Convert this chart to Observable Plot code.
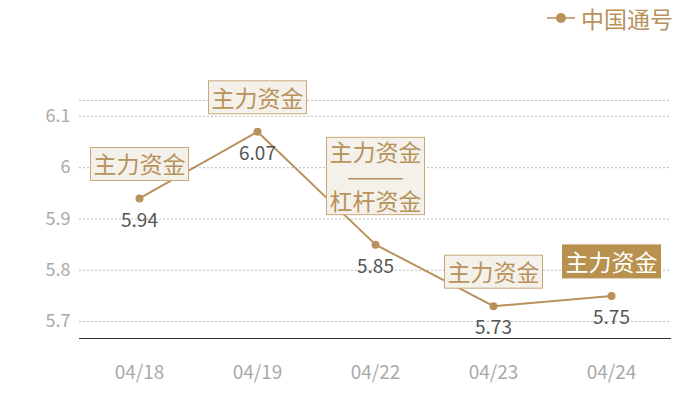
<!DOCTYPE html>
<html><head><meta charset="utf-8">
<script src="https://cdn.jsdelivr.net/npm/d3@7"></script>
<script src="https://cdn.jsdelivr.net/npm/@observablehq/plot@0.6"></script>
<style>
body{margin:0;background:#fff;font-family:"Noto Sans CJK SC","Noto Sans",sans-serif;}
#legend{height:36px;display:flex;justify-content:flex-end;align-items:center;padding-right:27px;color:#b8925a;font-size:23px;}
#legend svg{margin-right:6px}
</style></head><body>
<div id="legend"><svg width="28" height="12"><line x1="0" x2="28" y1="6" y2="6" stroke="#b8925a" stroke-width="1.5"/><circle cx="14" cy="6" r="5" fill="#b8925a"/></svg><span>中国通号</span></div>
<div id="chart"></div>
<script>
const dates = ["04/18", "04/19", "04/22", "04/23", "04/24"];
const values = [5.94, 6.07, 5.85, 5.73, 5.75];
const notes = ["主力资金", "主力资金", "主力资金\n———\n杠杆资金", "主力资金", "主力资金"];
const highlight = [false, false, false, false, true];
const yTicks = [5.7, 5.8, 5.9, 6.0, 6.1];
const yDomain = [5.667, 6.131];
const seriesName = "中国通号";

const gold = "#b8925a";
const noteFill = "#b8925b";
const data = dates.map((d, i) => ({date: d, value: values[i], note: notes[i], hi: highlight[i]}));
const font = '"Noto Sans CJK SC","Noto Sans",sans-serif';
const single = data.filter(d => !d.hi && !d.note.includes("\n"));
const multi = data.filter(d => !d.hi && d.note.includes("\n"));
const hi = data.filter(d => d.hi);

const chart = Plot.plot({
  width: 700, height: 364,
  marginTop: 64, marginBottom: 62, marginLeft: 79, marginRight: 29,
  style: {fontFamily: font, background: "white", overflow: "visible"},
  x: {type: "point", domain: dates, padding: 0.5, label: null, tickSize: 0, tickPadding: 27},
  y: {domain: yDomain, ticks: yTicks, label: null, tickSize: 0, tickPadding: 9, tickFormat: d => String(+d.toFixed(1))},
  marks: [
    Plot.ruleY([...yTicks, yDomain[1]], {stroke: "#bbb", strokeDasharray: "2,2"}),
    Plot.ruleY([yDomain[0]], {stroke: "#333", strokeWidth: 1}),
    Plot.line(data, {x: "date", y: "value", stroke: gold, strokeWidth: 2}),
    Plot.dot(data, {x: "date", y: "value", r: 4, fill: gold}),
    Plot.text(data, {x: "date", y: "value", text: d => d.value.toFixed(2), dy: 22, fill: "#555", fontSize: 19}),
    Plot.text(single, {x: "date", y: "value", text: "note", lineAnchor: "bottom", dy: -25, fontSize: 23, fill: noteFill}),
    Plot.text(multi, {x: "date", y: "value", text: "note", lineAnchor: "bottom", dy: -35, fontSize: 23, lineHeight: 1.05, fill: noteFill}),
    Plot.text(hi, {x: "date", y: "value", text: "note", lineAnchor: "bottom", dy: -25, fontSize: 23, fill: "#fffffe"})
  ]
});
document.getElementById("chart").append(chart);

const svg = d3.select(chart);
svg.selectAll("[aria-label='y-axis tick label']").attr("fill", "#aaa").style("font-size", "18px");
svg.selectAll("[aria-label='x-axis tick label']").attr("fill", "#aaa").style("font-size", "19px");

function addBox(textEl, fill, stroke) {
  const b = textEl.getBBox();
  const multiLine = textEl.querySelectorAll("tspan").length > 1;
  const trim = multiLine ? 3 : 1;
  const r = document.createElementNS("http://www.w3.org/2000/svg", "rect");
  r.setAttribute("x", b.x - 3);
  r.setAttribute("y", b.y + trim);
  r.setAttribute("width", b.width + 6);
  r.setAttribute("height", b.height - trim - (multiLine ? 2 : 0));
  r.setAttribute("fill", fill);
  r.setAttribute("stroke", stroke);
  const t = textEl.getAttribute("transform");
  if (t) r.setAttribute("transform", t);
  textEl.parentNode.insertBefore(r, textEl);
}
svg.selectAll("g").each(function() {
  const f = (this.getAttribute("fill") || "").toLowerCase();
  if (f === noteFill) {
    Array.from(this.querySelectorAll(":scope > text")).forEach(t => addBox(t, "#f4f0ea", "#c9a878"));
  } else if (f === "#fffffe") {
    Array.from(this.querySelectorAll(":scope > text")).forEach(t => addBox(t, "#b8914f", "#b8914f"));
  }
});
</script>
</body></html>
